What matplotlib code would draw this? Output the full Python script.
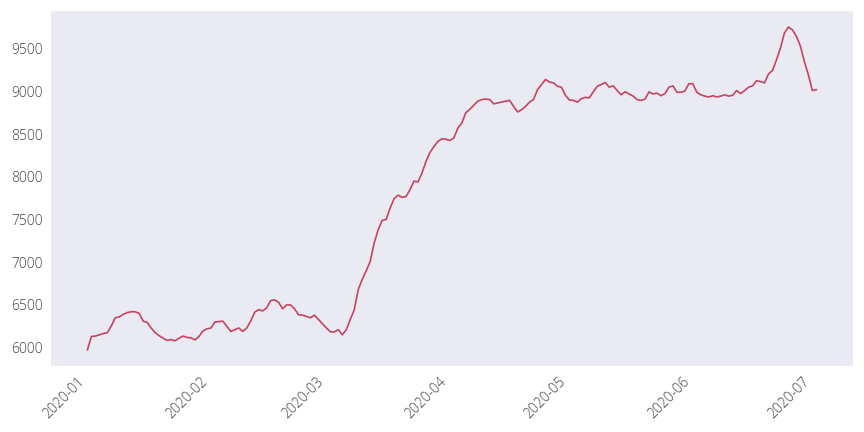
import pandas as pd
import matplotlib
matplotlib.use("Agg")
import matplotlib.pyplot as plt
import matplotlib.dates as mdates

start_date = "2020-01-01"

jan = [5975, 6130, 6135, 6150, 6165, 6175, 6255, 6350, 6360, 6390, 6410,
       6420, 6420, 6400, 6310, 6295, 6230, 6175, 6140, 6110, 6085, 6095,
       6080, 6110, 6135, 6120, 6115, 6090, 6130, 6195, 6220]
feb = [6230, 6300, 6305, 6310, 6250, 6190, 6210, 6230, 6190, 6230, 6310,
       6415, 6445, 6430, 6465, 6550, 6560, 6530, 6455, 6500, 6500, 6455,
       6385, 6380, 6365, 6350, 6380, 6330, 6280]
mar = [6230, 6185, 6185, 6210, 6150, 6210, 6330, 6445, 6680, 6800, 6900,
       7010, 7225, 7380, 7490, 7500, 7635, 7745, 7785, 7760, 7770, 7850,
       7950, 7940, 8045, 8180, 8285, 8355, 8415, 8445, 8440]
apr = [8425, 8455, 8570, 8630, 8750, 8790, 8840, 8885, 8905, 8910, 8905,
       8855, 8865, 8875, 8885, 8895, 8825, 8760, 8785, 8825, 8875, 8905,
       9020, 9080, 9140, 9110, 9100, 9060, 9050, 8955]
may = [8900, 8895, 8875, 8915, 8930, 8925, 8995, 9060, 9080, 9105, 9050,
       9065, 9010, 8960, 8995, 8970, 8945, 8905, 8895, 8910, 8995, 8970,
       8980, 8950, 8975, 9050, 9065, 8990, 8990, 9005, 9090]
jun = [9090, 8990, 8960, 8945, 8935, 8950, 8935, 8945, 8960, 8945, 8955,
       9010, 8975, 9010, 9050, 9065, 9125, 9115, 9100, 9205, 9245, 9370,
       9510, 9685, 9755, 9720, 9645, 9530, 9350, 9195]
jul = [9010, 9020]

values = jan + feb + mar + apr + may + jun + jul
dates = pd.date_range(start_date, periods=len(values), freq="D")

plt.rcParams["font.family"] = ["Open Sans", "DejaVu Sans"]
plt.rcParams["font.weight"] = "light"

fig = plt.figure(figsize=(8.64, 4.32), dpi=100)
ax = fig.add_axes([0.059, 0.153, 0.928, 0.822])
ax.set_facecolor("#EAEAF2")
for s in ax.spines.values():
    s.set_visible(False)

ax.plot(dates, values, color="#C8435F", linewidth=1.2)

ax.xaxis.set_major_locator(mdates.MonthLocator())
ax.xaxis.set_major_formatter(mdates.DateFormatter("%Y-%m"))
ax.tick_params(axis="both", length=0, labelsize=10, labelcolor="#444444", pad=6)
plt.setp(ax.get_xticklabels(), rotation=45, ha="right")

fig.savefig("out.png", dpi=100)
